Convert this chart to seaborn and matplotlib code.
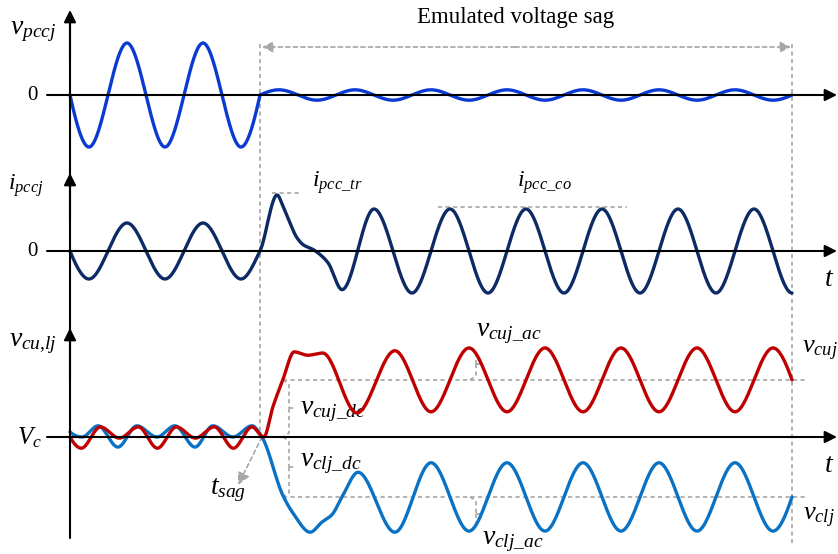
import numpy as np
import pandas as pd
import matplotlib
matplotlib.use("Agg")
import matplotlib.pyplot as plt
import seaborn as sns

# ---------------------------------------------------------------------------
# Waveform key points (time in ms, 50 Hz grid; values in per-unit of each panel)
# ---------------------------------------------------------------------------
SAG_START = 50.0
SAG_END = 190.0

# PCC voltage: nominal before the sag, strongly reduced during it
T_VPCC_PRE = [0, 5, 15, 25, 35, 45, 50]
V_PCC_PRE = [0, -1, 1, -1, 1, -1, 0]
T_VPCC_SAG = [50, 55, 65, 75, 85, 95, 105, 115, 125, 135, 145, 155, 165, 175, 185, 190]
V_PCC_SAG = [0, 0.1, -0.1, 0.1, -0.1, 0.1, -0.1, 0.1, -0.1, 0.1, -0.1, 0.1, -0.1, 0.1, -0.1, 0]

# PCC current: transient overshoot at the sag, then a larger steady current
T_IPCC = [0, 5, 15, 25, 35, 45, 50, 54.5, 56.1, 57.9, 59.6, 61.4, 64.0, 66.0, 67.9, 71.6,
          80, 90, 100, 110, 120, 130, 140, 150, 160, 170, 180, 190]
I_PCC = [0, -1, 1, -1, 1, -1, 0, 2.0, 1.58, 1.0, 0.5, 0.22, 0.05, -0.15, -0.42, -1.38,
         1.5, -1.5, 1.5, -1.5, 1.5, -1.5, 1.5, -1.5, 1.5, -1.5, 1.5, -1.5]

# Upper-arm capacitor voltage (deviation from Vc)
T_VCU = [0, 3, 8, 13, 18, 23, 28, 33, 38, 43, 47.9, 51.0, 53.4, 56.0, 59.0, 62.6, 66.5,
         75.5, 85.5, 95, 105, 115, 125, 135, 145, 155, 165, 175, 185, 190]
V_CU = [0, -0.2, 0.18, -0.02, 0.18, -0.2, 0.18, -0.02, 0.18, -0.2, 0.18, 0.0, 0.54, 1.02,
        1.52, 1.46, 1.5, 0.43, 1.54, 0.45, 1.59, 0.45, 1.59, 0.45, 1.59, 0.45, 1.59, 0.45,
        1.59, 1.02]

# Lower-arm capacitor voltage (deviation from Vc)
T_VCL = [0, 3.2, 7.4, 12.6, 17.6, 22.9, 27.6, 32.9, 37.6, 42.9, 47.9, 50.5, 56.0, 58.7,
         63.2, 66.3, 68.9, 71.8, 75.8, 85.5, 95, 105, 115, 125, 135, 145, 155, 165, 175,
         185, 190]
V_CL = [0.09, 0.0, 0.2, -0.18, 0.2, 0.0, 0.2, -0.18, 0.2, 0.0, 0.2, 0.0, -1.04, -1.36,
        -1.70, -1.52, -1.39, -1.04, -0.63, -1.70, -0.46, -1.68, -0.46, -1.68, -0.46, -1.68,
        -0.46, -1.68, -0.46, -1.68, -1.07]

VCU_DC = 1.02     # upper-arm dc level during the sag
VCL_DC = -1.07    # lower-arm dc level during the sag
VCU_AC_PEAK = (105, 1.59)
VCL_AC_TROUGH = (105, -1.68)
IPCC_TR_PEAK = 2.0
IPCC_CO_PEAK = 1.5

# ---------------------------------------------------------------------------
# Layout: one canvas, x in ms, y in pixel rows (top = 0)
# ---------------------------------------------------------------------------
W, H = 838, 554
X0, PX_PER_MS = 70, 3.8
BASE = {"v": 95, "i": 251, "c": 437}
GAIN = {"v": 52, "i": 28, "c": 56}


def tx(px):
    return (px - X0) / PX_PER_MS


def row(panel, val):
    return BASE[panel] - GAIN[panel] * np.asarray(val, dtype=float)


def pchip(xk, yk, xs, flat_end=False):
    """Shape-preserving cubic Hermite curve through the key points."""
    xk = np.asarray(xk, float)
    yk = np.asarray(yk, float)
    h = np.diff(xk)
    d = np.diff(yk) / h
    n = len(xk)
    m = np.zeros(n)
    for k in range(1, n - 1):
        if d[k - 1] * d[k] > 0:
            w1 = 2 * h[k] + h[k - 1]
            w2 = h[k] + 2 * h[k - 1]
            m[k] = (w1 + w2) / (w1 / d[k - 1] + w2 / d[k])

    def end(h0, h1, d0, d1):
        s = ((2 * h0 + h1) * d0 - h0 * d1) / (h0 + h1)
        if np.sign(s) != np.sign(d0):
            s = 0.0
        elif np.sign(d0) != np.sign(d1) and abs(s) > 3 * abs(d0):
            s = 3 * d0
        return s

    m[0] = end(h[0], h[1], d[0], d[1])
    m[-1] = 0.0 if flat_end else end(h[-1], h[-2], d[-1], d[-2])
    idx = np.clip(np.searchsorted(xk, xs, side="right") - 1, 0, n - 2)
    t = (xs - xk[idx]) / h[idx]
    h00 = 2 * t**3 - 3 * t**2 + 1
    h10 = t**3 - 2 * t**2 + t
    h01 = -2 * t**3 + 3 * t**2
    h11 = t**3 - t**2
    return (h00 * yk[idx] + h10 * h[idx] * m[idx] + h01 * yk[idx + 1]
            + h11 * h[idx] * m[idx + 1])


def curve(tk, vk, step=0.05, flat_end=False):
    ts = np.arange(tk[0], tk[-1] + 1e-9, step)
    return ts, pchip(tk, vk, ts, flat_end=flat_end)


sns.set_theme(style="white")
plt.rcParams["font.family"] = ["Liberation Serif", "DejaVu Serif"]
plt.rcParams["text.color"] = "black"
plt.rcParams["mathtext.fontset"] = "custom"
plt.rcParams["mathtext.rm"] = "Liberation Serif"
plt.rcParams["mathtext.it"] = "Liberation Serif:italic"
plt.rcParams["mathtext.bf"] = "Liberation Serif:bold"

fig = plt.figure(figsize=(W / 100, H / 100), dpi=100)
ax = fig.add_axes([0, 0, 1, 1])
ax.set_xlim(tx(0), tx(W))
ax.set_ylim(H, 0)
ax.axis("off")

C_VPCC = "#0a3ad2"
C_IPCC = "#0b2a66"
C_VCU = "#c00000"
C_VCL = "#0a72c4"
C_GUIDE = "#a6a6a6"
LW_WAVE = 2.4
LW_AXIS = 1.5
DASH = (0, (2.5, 2))


def trace(tk, vk, panel, color, flat_end=False):
    ts, vs = curve(tk, vk, flat_end=flat_end)
    df = pd.DataFrame({"t": ts, "y": row(panel, vs)})
    sns.lineplot(data=df, x="t", y="y", ax=ax, color=color, linewidth=LW_WAVE,
                 estimator=None, sort=False, zorder=4)


def arrow(p_from, p_to, color="black", lw=LW_AXIS, scale=18, ls="-", z=5):
    ax.annotate("", xy=p_to, xytext=p_from,
                arrowprops=dict(arrowstyle="-|>", color=color, lw=lw, linestyle=ls,
                                mutation_scale=scale, shrinkA=0, shrinkB=0),
                zorder=z)


def guide(xs, ys):
    ax.plot(xs, ys, color=C_GUIDE, lw=1.2, ls=DASH, zorder=2)


# Axes: one vertical time-origin line with three arrow tips, three time axes
ax.plot([0, 0], [538, 20], color="black", lw=LW_AXIS, zorder=5)
for tip, start in [(10, 60), (173, 220), (328, 380)]:
    arrow((0, start), (0, tip))
for panel in ("v", "i", "c"):
    arrow((tx(47), BASE[panel]), (tx(837), BASE[panel]))

# Sag interval guides
guide([SAG_START, SAG_START], [44, 431])
guide([SAG_END, SAG_END], [44, 545])
arrow((tx(515), 47), (tx(262), 47), color=C_GUIDE, lw=1.2, scale=16, ls=DASH, z=2)
arrow((tx(515), 47), (tx(791), 47), color=C_GUIDE, lw=1.2, scale=16, ls=DASH, z=2)
ax.text(tx(516), 17, "Emulated voltage sag", fontsize=16.5, ha="center", va="center")

# Sag instant marker
arrow((tx(262), 437), (tx(238), 485), color=C_GUIDE, lw=1.2, scale=18, ls=DASH, z=2)

# Waveforms
for tk, vk in [(T_VPCC_PRE, V_PCC_PRE), (T_VPCC_SAG, V_PCC_SAG)]:
    trace(tk, vk, "v", C_VPCC)
trace(T_IPCC, I_PCC, "i", C_IPCC, flat_end=True)
trace(T_VCL, V_CL, "c", C_VCL)
trace(T_VCU, V_CU, "c", C_VCU)

# Current peak guides
y_tr = row("i", IPCC_TR_PEAK) - 2
guide([tx(272), tx(300)], [y_tr, y_tr])
y_co = row("i", IPCC_CO_PEAK) - 2
guide([tx(438), tx(627)], [y_co, y_co])

# DC level guides during the sag
y_udc = row("c", VCU_DC)
y_ldc = row("c", VCL_DC)
guide([tx(283), tx(807)], [y_udc, y_udc])
guide([tx(283), tx(807)], [y_ldc, y_ldc])


def brace(x_px, y_top, y_bot, tick_px=6, hook_px=6):
    ym = (y_top + y_bot) / 2
    guide([tx(x_px - hook_px), tx(x_px), tx(x_px)], [y_top, y_top + 4, ym])
    guide([tx(x_px), tx(x_px), tx(x_px - hook_px)], [ym, y_bot - 4, y_bot])
    guide([tx(x_px), tx(x_px + tick_px)], [ym, ym])


brace(289, y_udc, BASE["c"])
brace(289, BASE["c"], y_ldc)
brace(476, row("c", VCU_AC_PEAK[1]), y_udc)
brace(476, y_ldc, row("c", VCL_AC_TROUGH[1]))

# Labels
FS_V = 20
FS_I = 17
ax.text(tx(10), 31, r"$v_{pccj}$", fontsize=FS_V, ha="left", va="center")
ax.text(tx(32), BASE["v"], "0", fontsize=15, ha="center", va="center")
ax.text(tx(8), 186, r"$i_{pccj}$", fontsize=FS_I, ha="left", va="center")
ax.text(tx(32), BASE["i"], "0", fontsize=15, ha="center", va="center")
ax.text(tx(9), 343, r"$v_{cu{,}lj}$", fontsize=FS_V, ha="left", va="center")
ax.text(tx(17), BASE["c"] + 1, r"$V_c$", fontsize=18, ha="left", va="center")
ax.text(tx(312), 183, r"$i_{pcc\_tr}$", fontsize=FS_I, ha="left", va="center")
ax.text(tx(517), 183, r"$i_{pcc\_co}$", fontsize=FS_I, ha="left", va="center")
ax.text(tx(300), 412, r"$v_{cuj\_dc}$", fontsize=FS_V, ha="left", va="center")
ax.text(tx(300), 464, r"$v_{clj\_dc}$", fontsize=FS_V, ha="left", va="center")
ax.text(tx(476), 333, r"$v_{cuj\_ac}$", fontsize=FS_V, ha="left", va="center")
ax.text(tx(482), 541, r"$v_{clj\_ac}$", fontsize=FS_V, ha="left", va="center")
ax.text(tx(802), 351, r"$v_{cuj}$", fontsize=19, ha="left", va="center")
ax.text(tx(803), 518, r"$v_{clj}$", fontsize=19, ha="left", va="center")
ax.text(tx(829), 279, r"$t$", fontsize=FS_V, ha="center", va="center")
ax.text(tx(829), 465, r"$t$", fontsize=FS_V, ha="center", va="center")
ax.text(tx(210), 490, r"$t_{sag}$", fontsize=FS_V, ha="left", va="center")

fig.savefig("out.png", dpi=100)
